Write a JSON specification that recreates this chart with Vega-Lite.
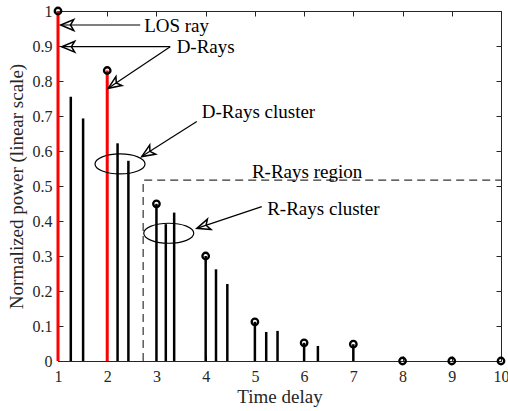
{
  "$schema": "https://vega.github.io/schema/vega-lite/v6.json",
  "width": 443,
  "height": 350,
  "autosize": "none",
  "padding": {"left": 58, "top": 11, "right": 7, "bottom": 50},
  "background": "white",
  "config": {
    "view": {"stroke": null},
    "font": "Liberation Serif",
    "axis": {
      "labelFont": "Liberation Serif",
      "labelFontSize": 16,
      "labelColor": "#262626",
      "labelFlush": false,
      "labelOverlap": false,
      "titleFont": "Liberation Serif",
      "titleFontSize": 19,
      "titleFontWeight": "normal",
      "titleColor": "#262626",
      "domainColor": "#262626",
      "domainWidth": 1,
      "tickColor": "#262626",
      "tickWidth": 1,
      "tickSize": -5,
      "grid": false
    }
  },
  "datasets": {
    "stems": [
      {"delay": 1, "power": 1.0, "kind": "LOS"},
      {"delay": 1.26, "power": 0.755, "kind": "other"},
      {"delay": 1.51, "power": 0.693, "kind": "other"},
      {"delay": 2, "power": 0.83, "kind": "D"},
      {"delay": 2.21, "power": 0.622, "kind": "other"},
      {"delay": 2.43, "power": 0.572, "kind": "other"},
      {"delay": 3, "power": 0.449, "kind": "other"},
      {"delay": 3.19, "power": 0.391, "kind": "other"},
      {"delay": 3.36, "power": 0.424, "kind": "other"},
      {"delay": 4, "power": 0.3, "kind": "other"},
      {"delay": 4.21, "power": 0.262, "kind": "other"},
      {"delay": 4.44, "power": 0.22, "kind": "other"},
      {"delay": 5, "power": 0.112, "kind": "other"},
      {"delay": 5.23, "power": 0.083, "kind": "other"},
      {"delay": 5.46, "power": 0.086, "kind": "other"},
      {"delay": 6, "power": 0.052, "kind": "other"},
      {"delay": 6.28, "power": 0.043, "kind": "other"},
      {"delay": 7, "power": 0.048, "kind": "other"}
    ],
    "markers": [
      {"delay": 1, "power": 1.0},
      {"delay": 2, "power": 0.83},
      {"delay": 3, "power": 0.449},
      {"delay": 4, "power": 0.3},
      {"delay": 5, "power": 0.112},
      {"delay": 6, "power": 0.052},
      {"delay": 7, "power": 0.048},
      {"delay": 8, "power": 0},
      {"delay": 9, "power": 0},
      {"delay": 10, "power": 0}
    ],
    "region": [
      {"delay": 2.73, "power": 0, "ord": 1},
      {"delay": 2.73, "power": 0.517, "ord": 2},
      {"delay": 10, "power": 0.517, "ord": 3}
    ],
    "clusters": [
      {"delay": 2.26, "power": 0.563},
      {"delay": 3.25, "power": 0.365}
    ],
    "arrows": [
      {"id": "LOS", "x": 2.67, "y": 0.96, "x2": 1.055, "y2": 0.96},
      {"id": "D1", "x": 3.28, "y": 0.898, "x2": 1.075, "y2": 0.898},
      {"id": "D2", "x": 3.28, "y": 0.898, "x2": 2.02, "y2": 0.779},
      {"id": "DC", "x": 3.82, "y": 0.684, "x2": 2.7, "y2": 0.584},
      {"id": "RC", "x": 5.14, "y": 0.441, "x2": 3.82, "y2": 0.379}
    ],
    "labels": [
      {"label": "LOS ray", "delay": 2.75, "power": 0.94},
      {"label": "D-Rays", "delay": 3.41, "power": 0.88},
      {"label": "D-Rays cluster", "delay": 3.92, "power": 0.694},
      {"label": "R-Rays region", "delay": 4.94, "power": 0.523},
      {"label": "R-Rays cluster", "delay": 5.25, "power": 0.417}
    ]
  },
  "layer": [
    {
      "data": {"name": "stems"},
      "transform": [{"filter": "datum.kind == 'other'"}],
      "mark": {"type": "rule", "color": "#000000", "strokeWidth": 2.5},
      "encoding": {
        "x": {
          "field": "delay", "type": "quantitative",
          "scale": {"domain": [1, 10], "nice": false, "zero": false},
          "axis": {"orient": "bottom", "values": [1,2,3,4,5,6,7,8,9,10], "format": "d", "title": "Time delay", "labelPadding": 12, "titlePadding": 3}
        },
        "y": {
          "field": "power", "type": "quantitative",
          "scale": {"domain": [0, 1], "nice": false},
          "axis": {"orient": "left", "values": [0,0.1,0.2,0.3,0.4,0.5,0.6,0.7,0.8,0.9,1], "format": "~g", "title": "Normalized power (linear scale)", "labelPadding": 11, "titlePadding": 6}
        },
        "y2": {"datum": 0}
      }
    },
    {
      "data": {"name": "stems"},
      "transform": [{"filter": "datum.kind != 'other'"}],
      "mark": {"type": "rule", "color": "#ff0000", "strokeWidth": 3},
      "encoding": {
        "x": {"field": "delay", "type": "quantitative", "axis": null},
        "y": {"field": "power", "type": "quantitative", "axis": null},
        "y2": {"datum": 0}
      }
    },
    {
      "data": {"name": "region"},
      "mark": {"type": "line", "color": "#333333", "strokeWidth": 1.2, "strokeDash": [8, 5]},
      "encoding": {
        "x": {"field": "delay", "type": "quantitative", "axis": null},
        "y": {"field": "power", "type": "quantitative", "axis": null},
        "order": {"field": "ord"}
      }
    },
    {
      "data": {"name": "markers"},
      "mark": {"type": "point", "shape": "circle", "filled": false, "color": "#000000", "strokeWidth": 2.3, "size": 42, "opacity": 1},
      "encoding": {
        "x": {"field": "delay", "type": "quantitative", "axis": {"orient": "top", "labels": false, "title": null, "domain": true, "values": [1,2,3,4,5,6,7,8,9,10]}},
        "y": {"field": "power", "type": "quantitative", "axis": {"orient": "right", "labels": false, "title": null, "domain": true, "values": [0,0.1,0.2,0.3,0.4,0.5,0.6,0.7,0.8,0.9,1]}}
      }
    },
    {
      "data": {"name": "clusters"},
      "mark": {"type": "point", "shape": "M -1 0 A 1 0.4 0 1 1 1 0 A 1 0.4 0 1 1 -1 0 Z", "filled": false, "color": "#000000", "strokeWidth": 1.2, "size": 2500, "opacity": 1},
      "encoding": {
        "x": {"field": "delay", "type": "quantitative", "axis": null},
        "y": {"field": "power", "type": "quantitative", "axis": null}
      }
    },
    {
      "data": {"name": "arrows"},
      "mark": {"type": "rule", "color": "#000000", "strokeWidth": 1.2},
      "encoding": {
        "x": {"field": "x", "type": "quantitative", "axis": null},
        "y": {"field": "y", "type": "quantitative", "axis": null},
        "x2": {"field": "x2"},
        "y2": {"field": "y2"}
      }
    },
    {
      "data": {"name": "arrows"},
      "transform": [{"filter": "datum.id == 'LOS' || datum.id == 'D1'"}],
      "mark": {"type": "point", "shape": "M -1 -0.42 L 0 0 L -1 0.42 L -0.75 0 Z", "filled": false, "color": "#000000", "strokeWidth": 1.5, "size": 676, "angle": 180, "opacity": 1},
      "encoding": {
        "x": {"field": "x2", "type": "quantitative", "axis": null},
        "y": {"field": "y2", "type": "quantitative", "axis": null}
      }
    },
    {
      "data": {"name": "arrows"},
      "transform": [{"filter": "datum.id == 'D2'"}],
      "mark": {"type": "point", "shape": "M -1 -0.42 L 0 0 L -1 0.42 L -0.75 0 Z", "filled": false, "color": "#000000", "strokeWidth": 1.5, "size": 676, "angle": 146, "opacity": 1},
      "encoding": {
        "x": {"field": "x2", "type": "quantitative", "axis": null},
        "y": {"field": "y2", "type": "quantitative", "axis": null}
      }
    },
    {
      "data": {"name": "arrows"},
      "transform": [{"filter": "datum.id == 'DC'"}],
      "mark": {"type": "point", "shape": "M -1 -0.42 L 0 0 L -1 0.42 L -0.75 0 Z", "filled": false, "color": "#000000", "strokeWidth": 1.5, "size": 676, "angle": 147.5, "opacity": 1},
      "encoding": {
        "x": {"field": "x2", "type": "quantitative", "axis": null},
        "y": {"field": "y2", "type": "quantitative", "axis": null}
      }
    },
    {
      "data": {"name": "arrows"},
      "transform": [{"filter": "datum.id == 'RC'"}],
      "mark": {"type": "point", "shape": "M -1 -0.42 L 0 0 L -1 0.42 L -0.75 0 Z", "filled": false, "color": "#000000", "strokeWidth": 1.5, "size": 676, "angle": 161.6, "opacity": 1},
      "encoding": {
        "x": {"field": "x2", "type": "quantitative", "axis": null},
        "y": {"field": "y2", "type": "quantitative", "axis": null}
      }
    },
    {
      "data": {"name": "labels"},
      "mark": {"type": "text", "align": "left", "baseline": "alphabetic", "font": "Liberation Serif", "fontSize": 19, "color": "#000000"},
      "encoding": {
        "x": {"field": "delay", "type": "quantitative", "axis": null},
        "y": {"field": "power", "type": "quantitative", "axis": null},
        "text": {"field": "label"}
      }
    }
  ],
  "resolve": {"axis": {"x": "independent", "y": "independent"}}
}
